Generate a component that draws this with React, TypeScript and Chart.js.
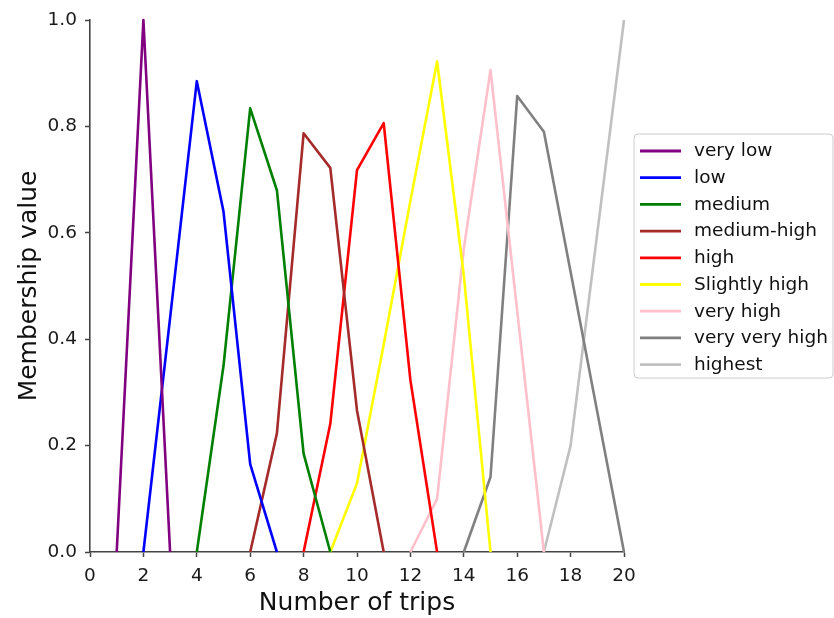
import React, { useEffect, useRef } from "react";
import { Chart, registerables } from "chart.js";

Chart.register(...registerables);

const FONT = "'DejaVu Sans', sans-serif";

// x-axis ticks
const xTicks = [0, 2, 4, 6, 8, 10, 12, 14, 16, 18, 20];
const yTicks = [0, 0.2, 0.4, 0.6, 0.8, 1.0];

const seriesNames = [
  "very low",
  "low",
  "medium",
  "medium-high",
  "high",
  "Slightly high",
  "very high",
  "very very high",
  "highest",
];
const seriesColors = [
  "#800080",
  "#0000ff",
  "#008000",
  "#a52a2a",
  "#ff0000",
  "#ffff00",
  "#ffc0cb",
  "#808080",
  "#c0c0c0",
];

// number of trips (x) and membership values (y) per fuzzy set
const veryLowTrips = [1, 2, 3];
const veryLowValues = [0, 1.0, 0];

const lowTrips = [2, 3, 4, 5, 6, 7];
const lowValues = [0, 0.44, 0.885, 0.64, 0.165, 0];

const mediumTrips = [4, 5, 6, 7, 8, 9];
const mediumValues = [0, 0.35, 0.834, 0.68, 0.185, 0];

const mediumHighTrips = [6, 7, 8, 9, 10, 11];
const mediumHighValues = [0, 0.223, 0.787, 0.722, 0.266, 0];

const highTrips = [8, 9, 10, 11, 12, 13];
const highValues = [0, 0.241, 0.718, 0.806, 0.323, 0];

const slightlyHighTrips = [9, 10, 11, 12, 13, 14, 15];
const slightlyHighValues = [0, 0.129, 0.39, 0.66, 0.922, 0.52, 0];

const veryHighTrips = [12, 13, 14, 15, 16, 17];
const veryHighValues = [0, 0.1, 0.57, 0.906, 0.453, 0];

const veryVeryHighTrips = [14, 15, 16, 17, 18, 19, 20];
const veryVeryHighValues = [0, 0.141, 0.857, 0.79, 0.527, 0.263, 0];

const highestTrips = [17, 18, 19, 20];
const highestValues = [0, 0.2, 0.6, 1.0];

const seriesTrips = [
  veryLowTrips,
  lowTrips,
  mediumTrips,
  mediumHighTrips,
  highTrips,
  slightlyHighTrips,
  veryHighTrips,
  veryVeryHighTrips,
  highestTrips,
];
const seriesValues = [
  veryLowValues,
  lowValues,
  mediumValues,
  mediumHighValues,
  highValues,
  slightlyHighValues,
  veryHighValues,
  veryVeryHighValues,
  highestValues,
];

const legendBox = {
  id: "legendBox",
  afterDraw(chart: any) {
    const ctx = chart.ctx as CanvasRenderingContext2D;
    const x0 = 634;
    const y0 = 134;
    const w = 199;
    const h = 244;
    ctx.save();
    ctx.beginPath();
    const r = 4;
    ctx.moveTo(x0 + r, y0);
    ctx.lineTo(x0 + w - r, y0);
    ctx.quadraticCurveTo(x0 + w, y0, x0 + w, y0 + r);
    ctx.lineTo(x0 + w, y0 + h - r);
    ctx.quadraticCurveTo(x0 + w, y0 + h, x0 + w - r, y0 + h);
    ctx.lineTo(x0 + r, y0 + h);
    ctx.quadraticCurveTo(x0, y0 + h, x0, y0 + h - r);
    ctx.lineTo(x0, y0 + r);
    ctx.quadraticCurveTo(x0, y0, x0 + r, y0);
    ctx.closePath();
    ctx.fillStyle = "rgba(255,255,255,0.9)";
    ctx.fill();
    ctx.strokeStyle = "#cccccc";
    ctx.lineWidth = 1;
    ctx.stroke();

    ctx.font = `18.5px ${FONT}`;
    ctx.textBaseline = "middle";
    ctx.textAlign = "left";
    chart.data.datasets.forEach((ds: any, i: number) => {
      const y = 151 + i * 26.7;
      ctx.beginPath();
      ctx.strokeStyle = ds.borderColor;
      ctx.lineWidth = 2.8;
      ctx.moveTo(640, y);
      ctx.lineTo(681, y);
      ctx.stroke();
      ctx.fillStyle = "#111";
      ctx.fillText(ds.label, 694, y + 0.5);
    });
    ctx.restore();
  },
};

export default function App() {
  const ref = useRef<HTMLCanvasElement | null>(null);

  useEffect(() => {
    if (!ref.current) return;
    const datasets = seriesNames.map((name, i) => ({
      label: name,
      data: seriesTrips[i].map((t, j) => ({ x: t, y: seriesValues[i][j] })),
      borderColor: seriesColors[i],
      backgroundColor: seriesColors[i],
      borderWidth: 2.6,
      pointRadius: 0,
      tension: 0,
      fill: false,
      clip: false as any,
      borderJoinStyle: "round" as const,
    }));

    const chart = new Chart(ref.current, {
      type: "line",
      data: { datasets },
      plugins: [legendBox],
      options: {
        responsive: false,
        animation: false,
        layout: { padding: { top: 20, right: 210, left: 0, bottom: 0 } },
        plugins: {
          legend: { display: false },
          tooltip: { enabled: false },
        },
        scales: {
          x: {
            type: "linear",
            min: 0,
            max: 20,
            afterFit: (s: any) => {
              s.height = 66;
            },
            afterBuildTicks: (s: any) => {
              s.ticks = xTicks.map((v) => ({ value: v }));
            },
            ticks: {
              padding: 8,
              color: "#1a1a1a",
              font: { family: FONT, size: 18.5 },
              callback: (v: any) => String(v),
            },
            grid: {
              display: true,
              drawOnChartArea: false,
              drawTicks: true,
              tickLength: 5,
              tickColor: "#444",
              tickWidth: 1.5,
            },
            border: { display: true, color: "#444", width: 1.6 },
            title: {
              display: true,
              text: "Number of trips",
              color: "#111",
              font: { family: FONT, size: 25 },
              padding: { top: 0, bottom: 0 },
            },
          },
          y: {
            type: "linear",
            min: 0,
            max: 1,
            afterFit: (s: any) => {
              s.width = 90;
            },
            afterBuildTicks: (s: any) => {
              s.ticks = yTicks.map((v) => ({ value: v }));
            },
            ticks: {
              padding: 8,
              color: "#1a1a1a",
              font: { family: FONT, size: 18.5 },
              callback: (v: any) => Number(v).toFixed(1),
            },
            grid: {
              display: true,
              drawOnChartArea: false,
              drawTicks: true,
              tickLength: 5,
              tickColor: "#444",
              tickWidth: 1.5,
            },
            border: { display: true, color: "#444", width: 1.6 },
            title: {
              display: true,
              text: "Membership value",
              color: "#111",
              font: { family: FONT, size: 25 },
              padding: { top: 14, bottom: 0 },
            },
          },
        },
      },
    });
    return () => chart.destroy();
  }, []);

  return (
    <div style={{ position: "fixed", left: 0, top: 0, width: 834, height: 618, background: "#fff" }}>
      <canvas ref={ref} width={834} height={618} style={{ width: 834, height: 618, display: "block" }} />
    </div>
  );
}
